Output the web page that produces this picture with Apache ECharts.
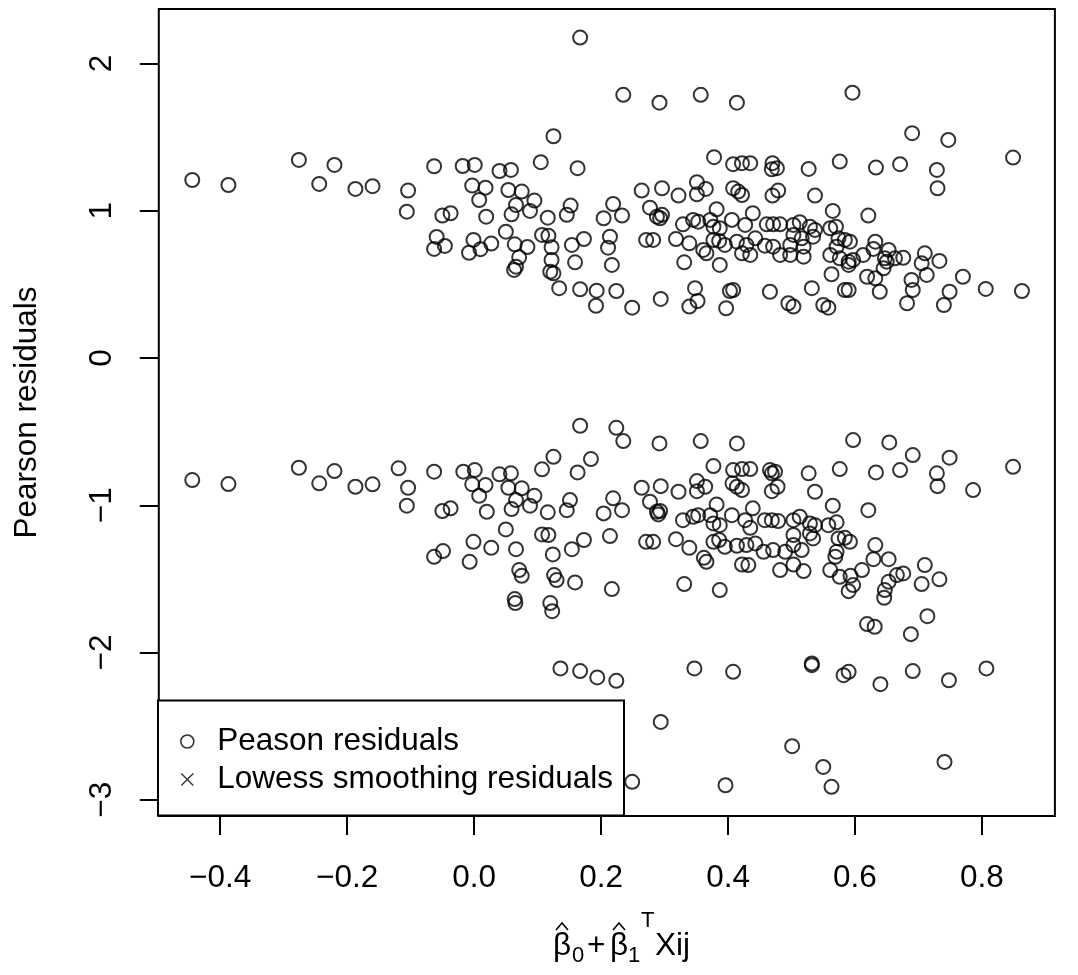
<!DOCTYPE html>
<html>
<head>
<meta charset="utf-8">
<script src="https://cdn.jsdelivr.net/npm/echarts@6/dist/echarts.min.js"></script>
<style>
html,body{margin:0;padding:0;background:#fff;}
#chart{width:1078px;height:975px;}
</style>
</head>
<body>
<div id="chart"></div>
<script>
// ---- data (fitted linear predictor, Pearson residual) ----
const fittedPos = [-0.444,-0.387,-0.276,-0.244,-0.220,-0.187,-0.160,-0.104,-0.106,-0.063,-0.050,-0.037,-0.059,-0.063,-0.046,-0.018,0.001,-0.003,0.018,0.008,0.019,-0.001,-0.008,0.010,0.027,0.040,0.058,0.105,0.125,0.054,0.075,0.095,0.066,0.059,0.088,0.116,0.050,0.064,0.084,0.071,0.066,0.063,0.107,0.117,0.122,0.122,0.120,0.125,0.134,0.167,0.235,0.292,0.357,0.414,0.163,0.378,0.408,0.422,0.435,0.264,0.296,0.322,0.351,0.351,0.365,0.408,0.416,0.422,0.152,0.146,0.219,0.233,0.204,0.277,0.288,0.293,0.296,0.329,0.345,0.353,0.382,0.372,0.377,0.387,0.406,0.427,0.439,0.154,0.173,0.214,0.211,0.271,0.282,0.318,0.339,0.377,0.386,0.395,0.361,0.366,0.414,0.429,0.422,0.435,0.443,0.159,0.217,0.331,0.387,0.167,0.193,0.192,0.224,0.249,0.294,0.348,0.352,0.339,0.403,0.408,0.397,0.596,0.690,0.747,0.849,0.470,0.469,0.477,0.527,0.576,0.633,0.671,0.729,0.730,0.479,0.470,0.537,0.565,0.621,0.461,0.471,0.482,0.503,0.513,0.529,0.537,0.561,0.570,0.458,0.471,0.503,0.516,0.534,0.498,0.519,0.482,0.498,0.519,0.574,0.584,0.592,0.571,0.561,0.576,0.590,0.590,0.597,0.613,0.632,0.629,0.653,0.647,0.650,0.645,0.663,0.676,0.710,0.705,0.733,0.563,0.619,0.632,0.689,0.713,0.770,0.466,0.532,0.584,0.590,0.639,0.691,0.749,0.806,0.863,0.495,0.503,0.550,0.558,0.682,0.740];
const residPos = [1.209,1.175,1.345,1.182,1.311,1.148,1.167,1.137,0.994,1.302,0.967,0.983,0.822,0.741,0.761,1.304,1.311,1.171,1.157,1.073,0.960,0.802,0.715,0.739,0.777,1.270,1.277,1.330,1.506,1.141,1.130,1.069,1.039,0.976,0.999,0.953,0.858,0.772,0.754,0.684,0.620,0.598,0.836,0.831,0.752,0.666,0.586,0.575,0.474,2.176,1.787,1.734,1.787,1.734,1.289,1.364,1.316,1.323,1.323,1.137,1.153,1.103,1.194,1.112,1.148,1.153,1.130,1.107,1.035,0.972,1.046,0.967,0.949,1.021,0.960,0.949,0.972,0.908,0.938,0.926,1.010,0.938,0.892,0.881,0.938,0.904,0.983,0.768,0.808,0.824,0.749,0.802,0.802,0.808,0.779,0.802,0.795,0.768,0.734,0.711,0.790,0.768,0.711,0.700,0.813,0.650,0.632,0.650,0.632,0.467,0.457,0.355,0.455,0.342,0.401,0.474,0.387,0.349,0.455,0.462,0.338,1.802,1.527,1.481,1.361,1.323,1.282,1.289,1.284,1.334,1.293,1.316,1.277,1.153,1.137,1.103,1.103,0.999,0.967,0.908,0.908,0.908,0.904,0.922,0.892,0.870,0.881,0.892,0.763,0.756,0.836,0.813,0.824,0.768,0.756,0.700,0.700,0.688,0.813,0.802,0.790,0.756,0.700,0.677,0.654,0.632,0.666,0.700,0.790,0.741,0.734,0.677,0.654,0.609,0.677,0.681,0.711,0.643,0.659,0.569,0.552,0.541,0.530,0.564,0.552,0.450,0.474,0.462,0.462,0.450,0.462,0.450,0.469,0.455,0.372,0.349,0.360,0.342,0.372,0.360];
const fittedNeg = [-0.444,-0.387,-0.276,-0.244,-0.220,-0.187,-0.160,-0.119,-0.104,-0.106,-0.063,-0.050,-0.037,-0.017,0.001,-0.003,0.018,0.008,0.020,0.040,0.058,0.054,0.075,0.095,0.066,0.059,0.088,0.107,0.125,0.116,0.050,-0.001,0.027,-0.049,-0.063,-0.007,0.066,0.107,0.117,0.124,0.071,0.075,0.126,0.130,0.064,0.065,0.120,0.123,0.167,0.224,0.235,0.292,0.357,0.414,0.184,0.163,0.377,0.408,0.422,0.435,0.407,0.414,0.422,0.264,0.294,0.322,0.351,0.351,0.364,0.151,0.146,0.219,0.233,0.204,0.277,0.288,0.293,0.290,0.329,0.345,0.353,0.382,0.372,0.377,0.387,0.406,0.427,0.439,0.154,0.173,0.214,0.271,0.282,0.318,0.339,0.362,0.366,0.377,0.386,0.395,0.414,0.422,0.432,0.429,0.443,0.435,0.159,0.217,0.331,0.387,0.136,0.167,0.194,0.224,0.347,0.408,0.294,0.249,0.396,0.646,0.619,0.631,0.714,0.688,0.532,0.532,0.582,0.590,0.640,0.691,0.748,0.807,0.501,0.550,0.563,0.741,0.597,0.654,0.691,0.749,0.849,0.466,0.469,0.474,0.527,0.576,0.633,0.671,0.729,0.730,0.786,0.469,0.478,0.537,0.565,0.621,0.458,0.469,0.479,0.503,0.513,0.529,0.537,0.558,0.571,0.456,0.471,0.490,0.503,0.503,0.516,0.529,0.534,0.482,0.503,0.519,0.574,0.584,0.592,0.571,0.569,0.561,0.576,0.593,0.597,0.590,0.611,0.632,0.629,0.653,0.653,0.647,0.666,0.676,0.710,0.705,0.733];
const residNeg = [-0.829,-0.856,-0.745,-0.851,-0.768,-0.874,-0.858,-0.749,-0.881,-1.003,-0.772,-1.039,-1.021,-0.772,-0.761,-0.858,-0.863,-0.936,-1.044,-0.790,-0.783,-0.881,-0.885,-0.936,-0.965,-1.026,-1.003,-0.756,-0.671,-1.048,-1.164,-1.248,-1.289,-1.311,-1.350,-1.384,-1.298,-1.198,-1.202,-1.334,-1.440,-1.479,-1.474,-1.508,-1.637,-1.664,-1.664,-1.719,-0.460,-0.474,-0.564,-0.580,-0.564,-0.580,-0.686,-0.777,-0.734,-0.761,-0.754,-0.754,-0.851,-0.874,-0.897,-0.881,-0.870,-0.908,-0.836,-0.904,-0.874,-0.965,-1.033,-0.953,-1.033,-1.055,-0.976,-1.044,-1.039,-1.062,-1.101,-1.078,-1.067,-0.994,-1.067,-1.123,-1.135,-1.067,-1.101,-1.021,-1.298,-1.236,-1.209,-1.248,-1.248,-1.230,-1.289,-1.357,-1.384,-1.248,-1.236,-1.282,-1.275,-1.402,-1.406,-1.270,-1.259,-1.153,-1.524,-1.569,-1.535,-1.576,-2.108,-2.126,-2.169,-2.192,-2.108,-2.131,-2.471,-2.878,-2.901,-1.628,-1.807,-1.825,-1.753,-1.875,-2.074,-2.086,-2.154,-2.131,-2.215,-2.126,-2.188,-2.108,-2.636,-2.777,-2.912,-2.743,-0.557,-0.573,-0.659,-0.677,-0.739,-0.761,-0.783,-0.772,-0.783,-0.754,-0.777,-0.761,-0.783,-0.870,-0.897,-0.904,-0.874,-0.908,-1.003,-1.033,-1.101,-1.101,-1.107,-1.101,-1.078,-1.123,-1.135,-1.135,-1.116,-1.316,-1.304,-1.316,-1.202,-1.270,-1.304,-1.191,-1.225,-1.440,-1.402,-1.447,-1.225,-1.221,-1.248,-1.316,-1.350,-1.440,-1.486,-1.479,-1.542,-1.583,-1.440,-1.270,-1.366,-1.366,-1.520,-1.576,-1.474,-1.463,-1.406,-1.535,-1.503];
const xTickValues = [-0.4,-0.2,0.0,0.2,0.4,0.6,0.8];
const yTickValues = [-3,-2,-1,0,1,2];
const legendNames = ['Peason residuals','Lowess smoothing residuals'];
const yAxisTitle = 'Pearson residuals';

// ---- build ----
const points = fittedPos.map((x,i)=>[x,residPos[i]])
  .concat(fittedNeg.map((x,i)=>[x,residNeg[i]]));
const FONT = '"Liberation Sans", Arial, Helvetica, sans-serif';
const FS = 31.5;
const minus = v => (v < 0 ? '\u2212' : '');
const xFmt = v => minus(v) + Math.abs(v).toFixed(1);
const yFmt = v => minus(v) + Math.abs(v);
const crossPath = 'path://M7.5,0L50,42.5L92.5,0L100,7.5L57.5,50L100,92.5L92.5,100L50,57.5L7.5,100L0,92.5L42.5,50L0,7.5Z';

const chart = echarts.init(document.getElementById('chart'), null, {renderer:'canvas'});
const hat = (cx) => ({type:'polyline', shape:{points:[[cx-6,930],[cx,923],[cx+6,930]]}, style:{stroke:'#000', lineWidth:1.5, fill:null}});
const txt = (t, x, y, fs) => ({type:'text', x:x, y:y, style:{text:t, fontSize:fs, fontFamily:FONT, fill:'#000', align:'left', verticalAlign:'middle'}});

chart.setOption({
  animation:false,
  backgroundColor:'#ffffff',
  grid:{left:158.8, right:23.1, top:9, bottom:159, show:true, borderColor:'#000', borderWidth:2, backgroundColor:'transparent'},
  xAxis:{
    type:'value', min:-0.4967, max:0.9149,
    splitLine:{show:false}, axisLine:{show:false, onZero:false},
    axisTick:{show:true, length:19, customValues:xTickValues, lineStyle:{color:'#000', width:2}},
    axisLabel:{customValues:xTickValues, formatter:xFmt, margin:46, color:'#000', fontSize:FS, fontFamily:FONT}
  },
  yAxis:{
    type:'value', min:-3.11, max:2.37,
    splitLine:{show:false}, axisLine:{show:false, onZero:false},
    axisTick:{show:true, length:19, customValues:yTickValues, lineStyle:{color:'#000', width:2}},
    axisLabel:{customValues:yTickValues, formatter:yFmt, rotate:90, margin:40, color:'#000', fontSize:FS, fontFamily:FONT},
    name:yAxisTitle, nameLocation:'middle', nameGap:115, nameRotate:90,
    nameTextStyle:{color:'#000', fontSize:FS, fontFamily:FONT}
  },
  legend:{
    orient:'vertical', left:158, top:700.5,
    padding:[25,11,20,22], itemGap:6,
    itemWidth:50, itemHeight:13, symbolKeepAspect:true,
    backgroundColor:'#ffffff', borderColor:'#000', borderWidth:2, borderRadius:0,
    textStyle:{color:'#000', fontSize:FS, fontFamily:FONT, lineHeight:32},
    data:[
      {name:legendNames[0], icon:'circle', itemStyle:{color:'rgba(0,0,0,0)', borderColor:'#000', borderWidth:1.6}},
      {name:legendNames[1], icon:crossPath, itemStyle:{color:'#000', borderWidth:0}}
    ],
    selectedMode:false
  },
  series:[
    {type:'scatter', name:legendNames[0], data:points, symbol:'circle', symbolSize:14,
     itemStyle:{color:'rgba(0,0,0,0)', borderColor:'#000', borderWidth:2}, emphasis:{disabled:true}},
    {type:'scatter', name:legendNames[1], data:[], symbol:crossPath, symbolSize:13,
     itemStyle:{color:'#000'}}
  ],
  graphic:[
    txt('\u03B2', 553, 946, FS),
    txt('0', 572, 956, 22),
    txt('+', 587, 946, FS),
    txt('\u03B2', 610, 946, FS),
    txt('1', 628, 956, 22),
    txt('T', 641, 921, 22),
    txt('Xij', 655, 946, FS),
    hat(562), hat(619)
  ]
});
</script>
</body>
</html>
